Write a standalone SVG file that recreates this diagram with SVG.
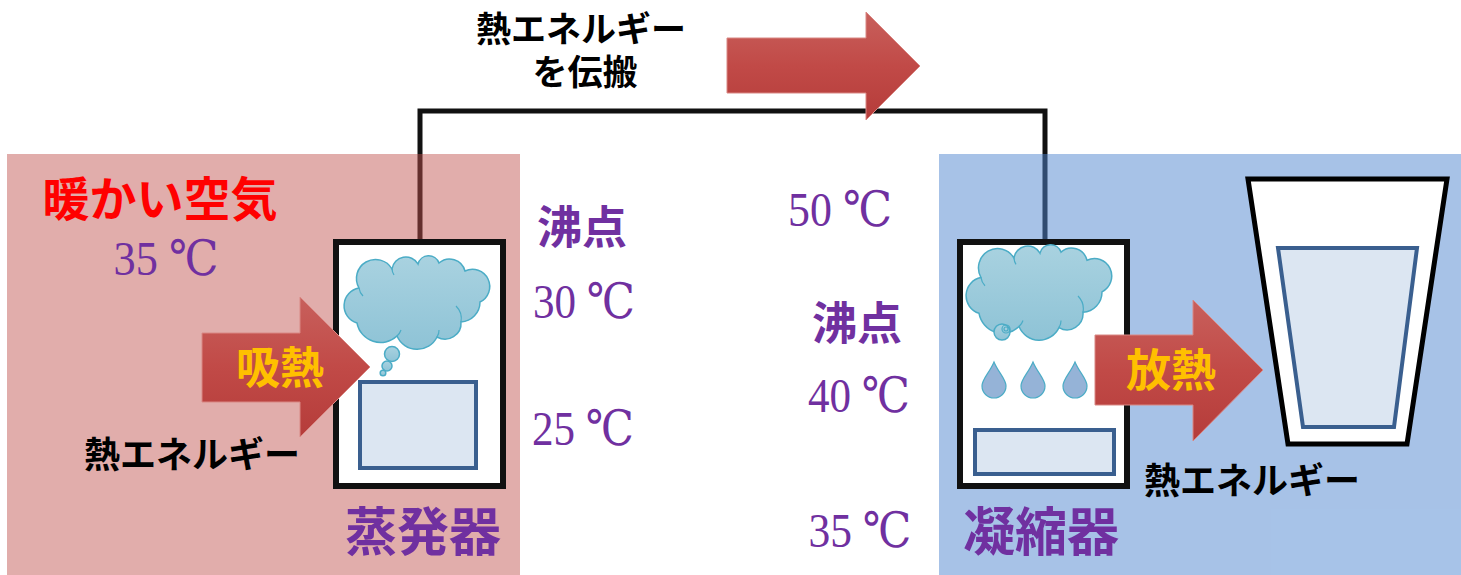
<svg xmlns="http://www.w3.org/2000/svg" width="1461" height="575" viewBox="0 0 1461 575">
  <defs>
    <style>
      .jp { font-family: "Noto Sans CJK JP", "Noto Sans", sans-serif; font-weight: 700; text-anchor: middle; }
      .num { font-family: "Liberation Serif", "DejaVu Serif", serif; fill: #7030a0; text-anchor: middle; }
      .purple { fill: #7030a0; }
      .black { fill: #000; }
      .orange { fill: #ffc000; }
      .pipe { fill: none; stroke: #111; stroke-width: 5; }
      .frame { fill: #fff; stroke: #111; stroke-width: 6; }
      .liquid { fill: #dce6f2; stroke: #3a5f8f; stroke-width: 4; }
      .cloud { fill: url(#cloudGrad); stroke: #4bacc6; stroke-width: 1.5; }
      .crease { fill: none; stroke: #4bacc6; stroke-width: 1.2; }
      .drop { fill: #95b3d7; stroke: #4bacc6; stroke-width: 1.2; }
      .arrow { fill: url(#arrowGrad); stroke: #d98884; stroke-width: 1; }
    </style>
    <linearGradient id="cloudGrad" x1="0" y1="0" x2="0" y2="1">
      <stop offset="0" stop-color="#a9d2e0"/>
      <stop offset="1" stop-color="#8ec3d6"/>
    </linearGradient>
    <linearGradient id="arrowGrad" x1="0" y1="0" x2="0" y2="1">
      <stop offset="0" stop-color="#c8605c"/>
      <stop offset="0.5" stop-color="#c14a47"/>
      <stop offset="1" stop-color="#b53c3a"/>
    </linearGradient>
    <!-- cloud outline in local coordinates (about 136 x 91) -->
    <g id="cloudShape">
      <path class="cloud" d="M 12,30 A 17,17 0 0 1 45,11 A 14,14 0 0 1 71,6 A 11,11 0 0 1 92,5 A 16,16 0 0 1 118,13 A 17,17 0 0 1 133,44 A 20,20 0 0 1 114,64 A 16,16 0 0 1 90,79 A 22,22 0 0 1 50,78 A 24,24 0 0 1 10,65 A 18,18 0 0 1 12,30 Z"/>
      <path class="crease" d="M 12,30 A 14,14 0 0 0 16,38 M 45,11 A 12,12 0 0 0 47,17 M 114,64 A 18,18 0 0 0 109,48 M 90,79 A 12,12 0 0 0 92,72 M 50,78 A 14,14 0 0 0 54,72"/>
    </g>
    <path id="dropShape" d="M 0,0 C 4,10 12,17 12,24 A 12,12 0 0 1 -12,24 C -12,17 -4,10 0,0 Z"/>
  </defs>

  <!-- pipe linking the two units -->
  <g id="connectors">
    <path class="pipe" d="M 420,241 V 111 H 1045 V 241"/>
  </g>

  <!-- warm and cool zones -->
  <g id="warm-zone">
    <rect x="7" y="154" width="513" height="421" fill="#c0504d" fill-opacity="0.47"/>
  </g>
  <g id="cool-zone">
    <rect x="939" y="154" width="522" height="421" fill="#4f86d0" fill-opacity="0.5"/>
  </g>

  <!-- evaporator -->
  <g id="evaporator">
    <rect class="frame" x="336" y="242" width="167" height="244"/>
    <use href="#cloudShape" transform="translate(347,258)"/>
    <circle class="cloud" cx="392" cy="354" r="7.5"/>
    <circle class="cloud" cx="387" cy="366" r="5"/>
    <circle class="cloud" cx="383" cy="373" r="2.8"/>
    <rect class="liquid" x="360" y="382" width="116" height="86"/>
  </g>

  <!-- condenser -->
  <g id="condenser">
    <rect class="frame" x="960" y="242" width="167" height="244"/>
    <use href="#cloudShape" transform="translate(969,247) scale(1,1.02)"/>
    <circle class="cloud" cx="1002" cy="332" r="8"/>
    <circle class="crease" cx="1006" cy="329" r="4"/>
    <circle class="crease" cx="1006" cy="329" r="2"/>
    <use href="#dropShape" class="drop" transform="translate(994,362)"/>
    <use href="#dropShape" class="drop" transform="translate(1033,362)"/>
    <use href="#dropShape" class="drop" transform="translate(1075,362)"/>
    <rect class="liquid" x="975" y="430" width="139" height="44"/>
  </g>

  <!-- glass of cooled water -->
  <g id="glass">
    <polygon points="1248,179 1447,179 1407,444 1288,444" fill="#fff" stroke="#000" stroke-width="5"/>
    <polygon points="1278,248 1417,248 1394,427 1303,427" class="liquid"/>
  </g>

  <!-- heat arrows -->
  <g id="arrow-transfer">
    <polygon class="arrow" points="727,38 866,38 866,12 920,66 866,120 866,93 727,93"/>
  </g>
  <g id="arrow-absorb">
    <polygon class="arrow" points="202,333 300,333 300,297 370,367 300,437 300,402 202,402"/>
    <text class="jp orange" x="280" y="384" font-size="44">吸熱</text>
  </g>
  <g id="arrow-release">
    <polygon class="arrow" points="1095,335 1193,335 1193,300 1263,370 1193,441 1193,405 1095,405"/>
    <text class="jp orange" x="1171" y="387" font-size="45">放熱</text>
  </g>

  <!-- labels -->
  <g id="labels">
    <text class="jp black" font-size="35"><tspan x="581" y="42">熱エネルギー</tspan><tspan x="585" y="85">を伝搬</tspan></text>

    <text class="jp" x="160" y="216" font-size="47" fill="#ff0000">暖かい空気</text>
    <text class="num" x="166" y="275" font-size="49" textLength="105" lengthAdjust="spacingAndGlyphs">35 ℃</text>

    <text class="jp purple" x="582" y="244" font-size="45">沸点</text>
    <text class="num" x="584" y="318" font-size="49" textLength="102" lengthAdjust="spacingAndGlyphs">30 ℃</text>
    <text class="num" x="583" y="445" font-size="49" textLength="102" lengthAdjust="spacingAndGlyphs">25 ℃</text>
    <text class="jp black" x="192" y="468" font-size="36">熱エネルギー</text>
    <text class="jp purple" x="423" y="551" font-size="52">蒸発器</text>

    <text class="num" x="840" y="226" font-size="49" textLength="104" lengthAdjust="spacingAndGlyphs">50 ℃</text>
    <text class="jp purple" x="857" y="340" font-size="45">沸点</text>
    <text class="num" x="859" y="412" font-size="49" textLength="102" lengthAdjust="spacingAndGlyphs">40 ℃</text>
    <text class="num" x="860" y="547" font-size="49" textLength="103" lengthAdjust="spacingAndGlyphs">35 ℃</text>
    <text class="jp purple" x="1041" y="551" font-size="52">凝縮器</text>
    <text class="jp black" x="1252" y="494" font-size="36">熱エネルギー</text>
  </g>
</svg>
